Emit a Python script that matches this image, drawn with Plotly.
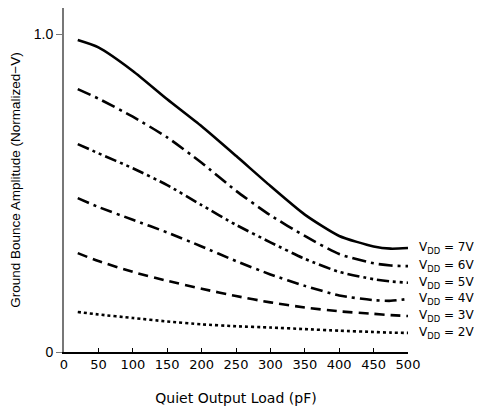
import plotly.graph_objects as go

load_pf = [20, 50, 100, 150, 200, 250, 300, 350, 400, 450, 475, 500]

v7 = [0.981, 0.958, 0.884, 0.795, 0.710, 0.617, 0.522, 0.432, 0.365, 0.332, 0.325, 0.327]
v6 = [0.827, 0.797, 0.740, 0.675, 0.595, 0.507, 0.430, 0.365, 0.308, 0.279, 0.272, 0.270]
v5 = [0.654, 0.625, 0.578, 0.525, 0.462, 0.400, 0.345, 0.293, 0.252, 0.229, 0.222, 0.218]
v4 = [0.484, 0.456, 0.416, 0.376, 0.332, 0.286, 0.244, 0.208, 0.178, 0.163, 0.161, 0.167]
v3 = [0.311, 0.286, 0.252, 0.224, 0.199, 0.176, 0.156, 0.140, 0.128, 0.120, 0.116, 0.113]
v2 = [0.126, 0.118, 0.107, 0.096, 0.087, 0.081, 0.077, 0.072, 0.067, 0.063, 0.061, 0.060]

series_names = ["7V", "6V", "5V", "4V", "3V", "2V"]
series_values = [v7, v6, v5, v4, v3, v2]
dashes = ["solid", "14px,5px,3px,5px", "12px,4px,3px,4px,3px,4px",
          "12px,5px,3px,5px", "10px,6px", "3px,3px"]

x_ticks = [0, 50, 100, 150, 200, 250, 300, 350, 400, 450, 500]
y_ticks = [0, 1.0]
y_ticktext = ["0", "1.0"]

fig = go.Figure()
for name, vals, dash in zip(series_names, series_values, dashes):
    fig.add_trace(go.Scatter(
        x=load_pf, y=vals, mode="lines", name=name,
        line=dict(color="black", width=2.6, dash=dash, shape="spline", smoothing=0.6),
        showlegend=False, hoverinfo="skip"))
    fig.add_annotation(
        x=1.026, xref="paper", y=vals[-1], yref="y",
        text="V<sub>DD</sub> = " + name, showarrow=False,
        xanchor="left", yanchor="middle",
        font=dict(family="DejaVu Sans", size=12, color="black"))

# the page body adds an 8px offset, so the figure is sized/margined to compensate
fig.update_layout(
    width=474, height=403,
    margin=dict(l=56, r=74, t=0, b=59),
    paper_bgcolor="white", plot_bgcolor="white",
    xaxis=dict(
        range=[0, 500], tickvals=x_ticks, ticks="inside", ticklen=4,
        tickcolor="black", showline=True, linecolor="black", linewidth=1.5,
        showgrid=False, zeroline=False, automargin=False,
        tickfont=dict(family="DejaVu Sans", size=13, color="black"),
        title=dict(text="Quiet Output Load (pF)", standoff=22,
                   font=dict(family="DejaVu Sans", size=14, color="black"))),
    yaxis=dict(
        range=[0, 1.082], tickvals=y_ticks, ticktext=y_ticktext,
        ticks="outside", ticklen=6, tickcolor="#777777",
        showline=True, linecolor="#777777", linewidth=2,
        showgrid=False, zeroline=False, automargin=False,
        tickfont=dict(family="Liberation Sans", size=14, color="black"),
        title=dict(text="Ground Bounce Amplitude (Normalized\u2212V)", standoff=11,
                   font=dict(family="Liberation Sans", size=13.5, color="black"))),
)

fig.write_html("out.html")
